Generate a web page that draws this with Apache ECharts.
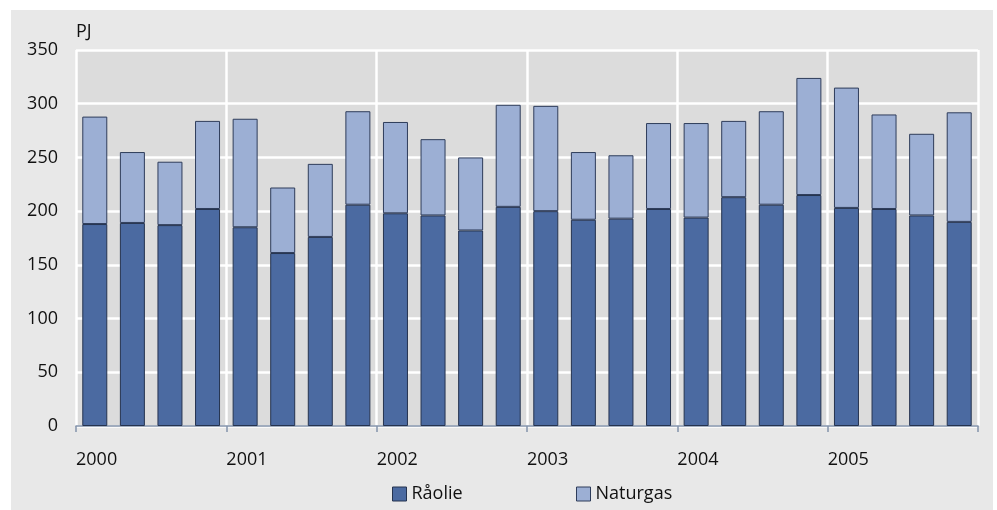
<!DOCTYPE html>
<html>
<head>
<meta charset="utf-8">
<script src="https://cdn.jsdelivr.net/npm/echarts@6/dist/echarts.min.js"></script>
<style>
html,body{margin:0;padding:0;background:#ffffff;}
#chart{width:997px;height:510px;}
</style>
</head>
<body>
<div id="chart"></div>
<script>
var quarters = ['2000K1','2000K2','2000K3','2000K4','2001K1','2001K2','2001K3','2001K4','2002K1','2002K2','2002K3','2002K4','2003K1','2003K2','2003K3','2003K4','2004K1','2004K2','2004K3','2004K4','2005K1','2005K2','2005K3','2005K4'];
var yearLabels = ['2000','2001','2002','2003','2004','2005'];
var raaolie = [188,189,187,202,185,161,176,206,198,196,182,204,200,192,193,202,194,213,206,215,203,202,196,190];
var naturgas = [100,66,59,82,101,61,68,87,85,71,68,95,98,63,59,80,88,71,87,109,112,88,76,102];
var yTicks = [0,50,100,150,200,250,300,350];

var FONT = '"Open Sans", "Liberation Sans", sans-serif';
var chart = echarts.init(document.getElementById('chart'));
var option = {
  backgroundColor: '#ffffff',
  animation: false,
  graphic: [
    {type:'rect', z:-10, silent:true, shape:{x:11,y:10,width:982,height:500}, style:{fill:'#e8e8e8'}},
    {type:'text', left:76, top:23, style:{text:'PJ', font:'18px "Open Sans", "Liberation Sans", sans-serif', fill:'#111111'}}
  ],
  grid: {left:76, right:19, top:50, bottom:84, show:true, backgroundColor:'#dcdcdc', borderWidth:0},
  legend: [
    {data:['Råolie'], left:387, top:480, itemWidth:14, itemHeight:14, itemGap:10, icon:'rect',
     itemStyle:{borderColor:'#25334f', borderWidth:1},
     textStyle:{fontSize:18, color:'#111111', fontFamily:FONT}},
    {data:['Naturgas'], left:571, top:480, itemWidth:14, itemHeight:14, itemGap:10, icon:'rect',
     itemStyle:{borderColor:'#2e3c5a', borderWidth:1},
     textStyle:{fontSize:18, color:'#111111', fontFamily:FONT}}
  ],
  xAxis: [
    {type:'category', data:quarters, show:false, boundaryGap:true},
    {type:'value', min:0, max:24, interval:4, position:'bottom',
     axisLine:{show:true, onZero:false, lineStyle:{color:'#8392aa', width:1.5}},
     axisTick:{show:true, length:6, lineStyle:{color:'#8392aa', width:1.5}},
     axisLabel:{show:true, align:'left', margin:25, fontSize:18, color:'#111111', fontFamily:FONT,
       formatter:function(v){ var i = Math.round(v/4); return i < yearLabels.length ? yearLabels[i] : ''; }},
     splitLine:{show:true, lineStyle:{color:'#ffffff', width:2.5}}}
  ],
  yAxis: {
    type:'value', min:yTicks[0], max:yTicks[yTicks.length-1], interval:50,
    axisLine:{show:false}, axisTick:{show:false},
    axisLabel:{margin:18, fontSize:18, color:'#111111', fontFamily:FONT},
    splitLine:{show:true, lineStyle:{color:'#ffffff', width:2.5}}
  },
  series: [
    {name:'Råolie', type:'bar', stack:'total', xAxisIndex:0, data:raaolie, barWidth:25,
     itemStyle:{color:'#4b6aa1', borderColor:'#25334f', borderWidth:1}},
    {name:'Naturgas', type:'bar', stack:'total', xAxisIndex:0, data:naturgas, barWidth:25,
     itemStyle:{color:'#9cafd4', borderColor:'#2e3c5a', borderWidth:1}}
  ]
};
chart.setOption(option);
</script>
</body>
</html>
